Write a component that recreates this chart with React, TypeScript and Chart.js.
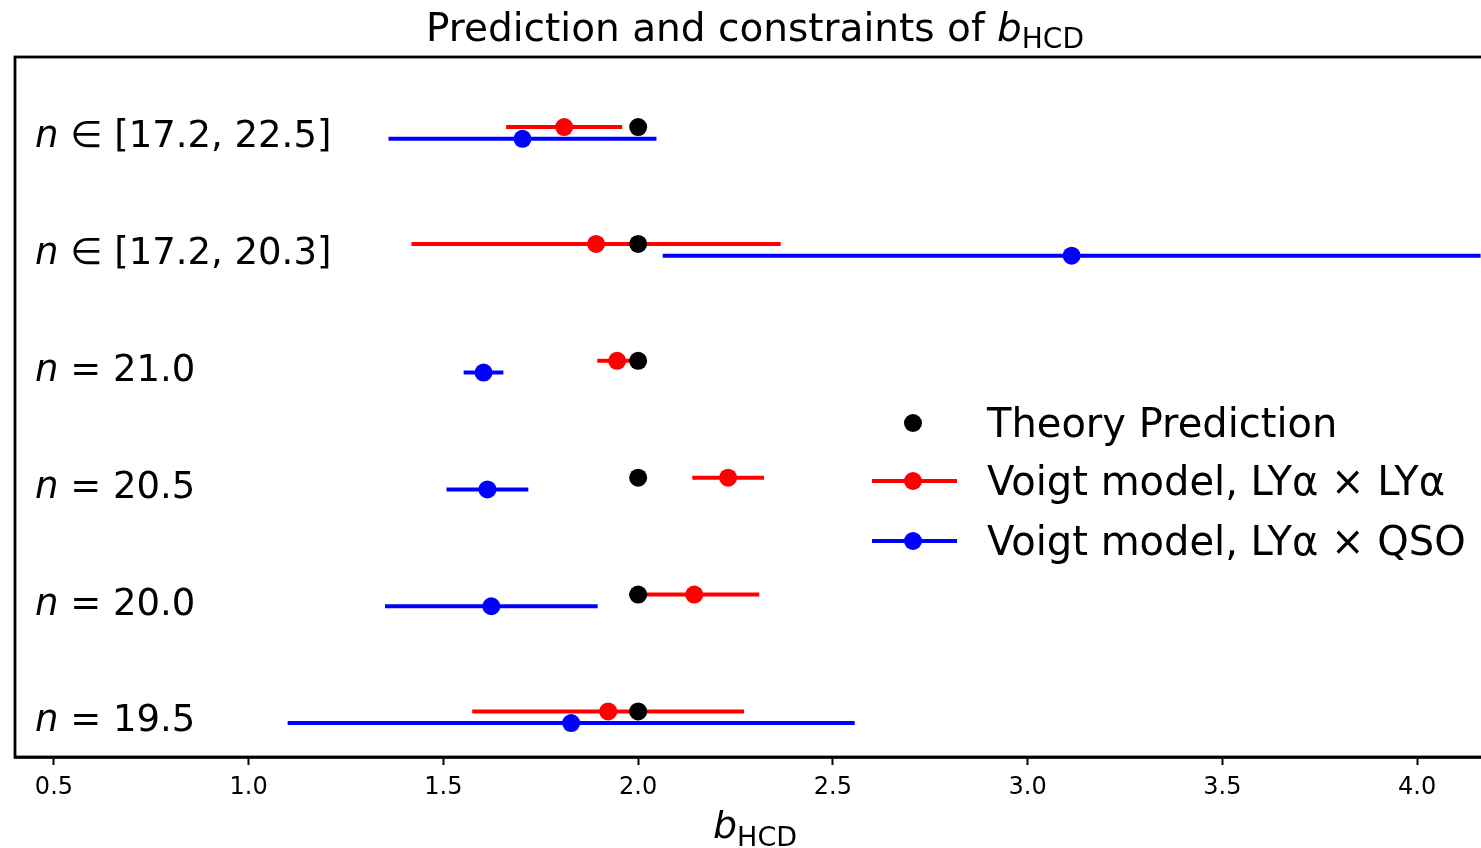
import React, { useEffect, useRef } from "react";
import { Chart, registerables } from "chart.js";

Chart.register(...registerables);

// ---- data (rows listed bottom to top) ----
const ROW_LABELS = ["n = 19.5", "n = 20.0", "n = 20.5", "n = 21.0", "n ∈ [17.2, 20.3]", "n ∈ [17.2, 22.5]"];
const ROW_POS = [0, 1, 2, 3, 4, 5];
const THEORY = [2.0, 2.0, 2.0, 2.0, 2.0, 2.0];
const LYA_LYA_VALUES = [1.923, 2.144, 2.231, 1.946, 1.892, 1.81];
const LYA_LYA_ERRORS = [0.349, 0.167, 0.092, 0.051, 0.474, 0.149];
const LYA_QSO_VALUES = [1.828, 1.623, 1.613, 1.603, 3.113, 1.703];
const LYA_QSO_ERRORS = [0.728, 0.273, 0.105, 0.051, 1.05, 0.344];
const QSO_ROW_SHIFT = -0.1;
const X_TICKS = [0.5, 1.0, 1.5, 2.0, 2.5, 3.0, 3.5, 4.0];
const X_MIN = 0.4;
const X_MAX = 4.2;
const Y_MIN = -0.39;
const Y_MAX = 5.6;
const LEGEND_LABELS = ["Theory Prediction", "Voigt model, LYα × LYα", "Voigt model, LYα × QSO"];
const TITLE_TEXT = "Prediction and constraints of ";
const AXIS_SYMBOL = "b";
const AXIS_SUB = "HCD";

const FONT = "'DejaVu Sans', sans-serif";
const RED = "#ff0000";
const BLUE = "#0000ff";
const BLACK = "#000000";
const CANVAS_W = 1510;
const CANVAS_H = 848;

function bars(values: number[], errors: number[], shift: number) {
  const out: { x: number; y: number }[] = [];
  values.forEach((v, i) => {
    out.push({ x: v - errors[i], y: ROW_POS[i] + shift });
    out.push({ x: v + errors[i], y: ROW_POS[i] + shift });
    out.push({ x: NaN, y: NaN });
  });
  return out;
}

function pts(values: number[], shift: number) {
  return values.map((v, i) => ({ x: v, y: ROW_POS[i] + shift }));
}

function drawMath(
  ctx: CanvasRenderingContext2D,
  parts: { text: string; italic?: boolean; size: number; dy?: number }[],
  centerX: number,
  baseline: number
) {
  let total = 0;
  parts.forEach((p) => {
    ctx.font = `${p.italic ? "italic " : ""}${p.size}px ${FONT}`;
    total += ctx.measureText(p.text).width;
  });
  let x = centerX - total / 2;
  parts.forEach((p) => {
    ctx.font = `${p.italic ? "italic " : ""}${p.size}px ${FONT}`;
    ctx.fillText(p.text, x, baseline + (p.dy || 0));
    x += ctx.measureText(p.text).width;
  });
}

const decorPlugin = {
  id: "decor",
  afterDraw(chart: any) {
    const ctx: CanvasRenderingContext2D = chart.ctx;
    const area = chart.chartArea;
    const yScale = chart.scales.y;
    ctx.save();
    // frame
    ctx.strokeStyle = BLACK;
    ctx.lineWidth = 2.8;
    ctx.strokeRect(area.left, area.top, area.right - area.left, area.bottom - area.top);

    ctx.fillStyle = BLACK;
    ctx.textAlign = "left";
    ctx.textBaseline = "alphabetic";

    // row labels
    ROW_LABELS.forEach((lab, i) => {
      const y = yScale.getPixelForValue(ROW_POS[i]) + 20;
      let x = area.left + 20;
      ctx.font = `italic 37px ${FONT}`;
      ctx.fillText(lab[0], x, y);
      x += ctx.measureText(lab[0]).width;
      ctx.font = `37px ${FONT}`;
      ctx.fillText(lab.slice(1), x, y);
    });

    const cx = (area.left + area.right) / 2;
    // title
    drawMath(
      ctx,
      [
        { text: TITLE_TEXT, size: 39 },
        { text: AXIS_SYMBOL, size: 39, italic: true },
        { text: AXIS_SUB, size: 28, dy: 7 },
      ],
      cx,
      41
    );
    // x axis label
    drawMath(
      ctx,
      [
        { text: AXIS_SYMBOL, size: 38, italic: true },
        { text: AXIS_SUB, size: 27, dy: 8 },
      ],
      cx,
      838
    );

    // legend
    const lx = 913;
    const rows = [423, 481, 541];
    const colors = [BLACK, RED, BLUE];
    rows.forEach((ry, i) => {
      if (i > 0) {
        ctx.strokeStyle = colors[i];
        ctx.lineWidth = 4;
        ctx.beginPath();
        ctx.moveTo(lx - 41, ry);
        ctx.lineTo(lx + 44, ry);
        ctx.stroke();
      }
      ctx.fillStyle = colors[i];
      ctx.beginPath();
      ctx.arc(lx, ry, 9, 0, Math.PI * 2);
      ctx.fill();
      ctx.fillStyle = BLACK;
      ctx.font = `40px ${FONT}`;
      ctx.fillText(LEGEND_LABELS[i], 987, ry + 14);
    });
    ctx.restore();
  },
};

export default function App() {
  const ref = useRef<HTMLCanvasElement | null>(null);
  useEffect(() => {
    document.body.style.margin = "0";
    document.body.style.overflow = "hidden";
    if (!ref.current) return;
    const chart = new Chart(ref.current, {
      type: "scatter",
      data: {
        datasets: [
          {
            label: LEGEND_LABELS[0],
            data: pts(THEORY, 0),
            backgroundColor: BLACK,
            borderWidth: 0,
            pointRadius: 9,
          },
          {
            label: LEGEND_LABELS[1],
            data: pts(LYA_LYA_VALUES, 0),
            backgroundColor: RED,
            borderWidth: 0,
            pointRadius: 9,
          },
          {
            label: LEGEND_LABELS[2],
            data: pts(LYA_QSO_VALUES, QSO_ROW_SHIFT),
            backgroundColor: BLUE,
            borderWidth: 0,
            pointRadius: 9,
          },
          {
            label: "err1",
            data: bars(LYA_LYA_VALUES, LYA_LYA_ERRORS, 0),
            showLine: true,
            spanGaps: false,
            borderColor: RED,
            borderWidth: 4,
            pointRadius: 0,
            borderCapStyle: "butt",
          },
          {
            label: "err2",
            data: bars(LYA_QSO_VALUES, LYA_QSO_ERRORS, QSO_ROW_SHIFT),
            showLine: true,
            spanGaps: false,
            borderColor: BLUE,
            borderWidth: 4,
            pointRadius: 0,
            borderCapStyle: "butt",
          },
        ] as any,
      },
      options: {
        animation: false,
        responsive: false,
        devicePixelRatio: 1,
        layout: { padding: { left: 15, top: 57, right: CANVAS_W - 1495, bottom: 0 } },
        plugins: { legend: { display: false }, tooltip: { enabled: false }, title: { display: false } },
        scales: {
          x: {
            type: "linear",
            min: X_MIN,
            max: X_MAX,
            afterBuildTicks: (s: any) => {
              s.ticks = X_TICKS.map((v) => ({ value: v }));
            },
            afterFit: (s: any) => {
              s.height = CANVAS_H - 757;
            },
            ticks: {
              autoSkip: false,
              maxRotation: 0,
              color: BLACK,
              padding: 8,
              font: { family: FONT, size: 24 },
              callback: (v: any) => Number(v).toFixed(1),
            },
            grid: {
              drawOnChartArea: false,
              drawTicks: true,
              tickLength: 8,
              tickWidth: 2,
              tickColor: BLACK,
              color: BLACK,
            },
            border: { display: true, color: BLACK, width: 2.8 },
          },
          y: {
            type: "linear",
            min: Y_MIN,
            max: Y_MAX,
            display: false,
          },
        },
      } as any,
      plugins: [decorPlugin],
    });
    return () => chart.destroy();
  }, []);
  return (
    <div style={{ position: "relative", width: 1481, height: 848, overflow: "hidden", background: "#fff" }}>
      <canvas ref={ref} width={CANVAS_W} height={CANVAS_H} style={{ display: "block" }} />
    </div>
  );
}
